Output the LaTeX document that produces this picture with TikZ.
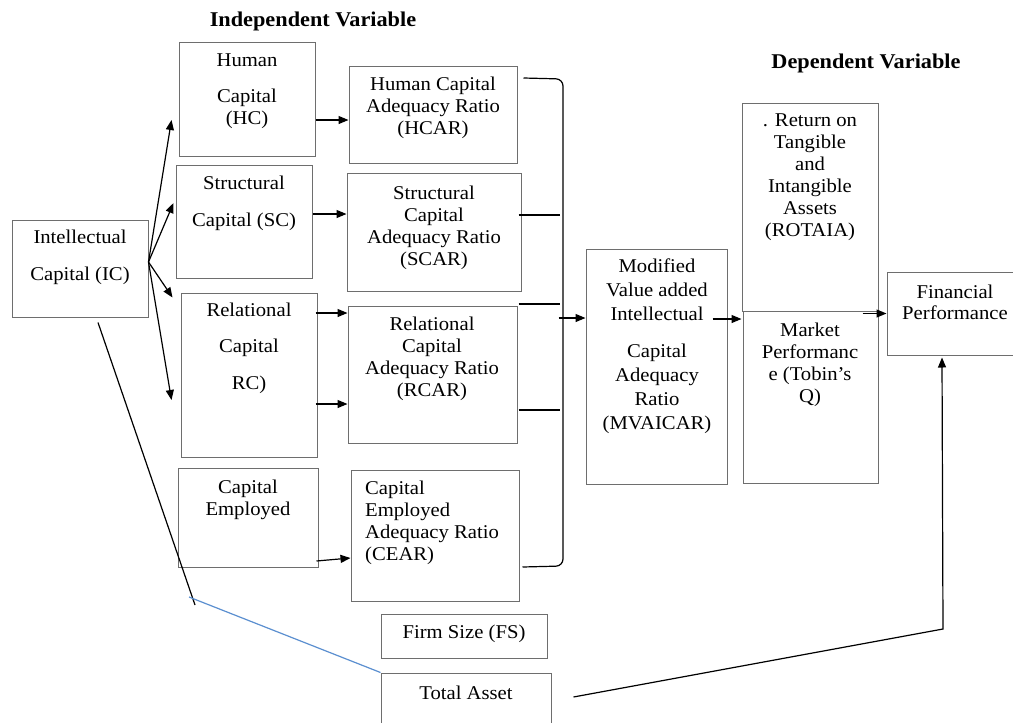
\documentclass[tikz,border=0pt]{standalone}
\usepackage{fontspec}
\setmainfont{Liberation Serif}[FakeStretch=1.06]
\usetikzlibrary{arrows.meta,fit}
\definecolor{boxgray}{RGB}{110,110,110}
\definecolor{lineblue}{RGB}{91,143,208}
\tikzset{
  box/.style={draw=boxgray, line width=1pt, inner sep=0pt},
  txt/.style={align=center, inner sep=0pt, font=\fontsize{19.5}{22}\selectfont},
  conn/.style={draw=black, line width=1.2pt},
  arr/.style={conn, -{Triangle[length=10pt,width=8pt]}},
  ttl/.style={font=\fontsize{21}{24}\selectfont\bfseries, inner sep=0pt},
}
\begin{document}
\begin{tikzpicture}[x=1pt,y=-1pt]
\useasboundingbox (0,0) rectangle (1013,723);
\clip (0,0) rectangle (1013,723);
\fill[white] (0,0) rectangle (1013,723);

% titles
\node[ttl] (indep) at (313,21) {Independent Variable};
\node[ttl] (dep) at (866,63) {Dependent Variable};

% boxes
\node[box, fit={(12,220) (148,317)}] (ic) {};
\node[box, fit={(179,42) (315,156)}] (hc) {};
\node[box, fit={(176,165) (312,278)}] (sc) {};
\node[box, fit={(181,293) (317,457)}] (rc) {};
\node[box, fit={(178,468) (318,567)}] (ce) {};
\node[box, fit={(349,66) (517,163)}] (hcar) {};
\node[box, fit={(347,173) (521,291)}] (scar) {};
\node[box, fit={(348,306) (517,443)}] (rcar) {};
\node[box, fit={(351,470) (519,601)}] (cear) {};
\node[box, fit={(381,614) (547,658)}] (fs) {};
\node[box, fit={(381,673) (551,735)}] (ta) {};
\node[box, fit={(586,249) (727,484)}] (mv) {};
\node[box, fit={(742,103) (878,311)}] (rot) {};
\node[box, fit={(743,311) (878,483)}] (mk) {};
\node[box, fit={(887,272) (1020,355)}] (fp) {};

% texts
\node[txt] (ict) at (80,257.5) {Intellectual\\[15pt]Capital (IC)};
\node[txt] (hct) at (247,91) {Human\\[14pt]Capital\\(HC)};
\node[txt] (sct) at (244,203.5) {Structural\\[15pt]Capital (SC)};
\node[txt] (rct) at (249,348.5) {Relational\\[14pt]Capital\\[15pt]RC)};
\node[txt] (cet) at (248,499.5) {Capital\\Employed};
\node[txt] (hcart) at (433,107.5) {Human Capital\\Adequacy Ratio\\(HCAR)};
\node[txt] (scart) at (434,227.5) {Structural\\Capital\\Adequacy Ratio\\(SCAR)};
\node[txt] (rcart) at (432,358.5) {Relational\\Capital\\Adequacy Ratio\\(RCAR)};
\node[txt, align=left, anchor=west] (ceart) at (365,523) {Capital\\Employed\\Adequacy Ratio\\(CEAR)};
\node[txt] (fst) at (464,634) {Firm Size (FS)};
\node[txt] (tat) at (466,693) {Total Asset};
\node[txt, font=\fontsize{19.5}{24}\selectfont] (mvt) at (657,346) {Modified\\Value added\\Intellectual\\[13pt]Capital\\Adequacy\\Ratio\\(MVAICAR)};
\node[txt] (rott) at (810,177.5) {. Return on\\Tangible\\and\\Intangible\\Assets\\(ROTAIA)};
\node[txt] (mkt) at (810,364.5) {Market\\Performanc\\e (Tobin’s\\Q)};
\node[txt] (fpt) at (955,302.5) {Financial\\[-1pt]Performance};

% IC to capitals
\draw[arr] ([yshift=6.5pt]ic.east) -- ([xshift=-7pt,yshift=-21pt]hc.west);
\draw[arr] ([yshift=6.5pt]ic.east) -- ([xshift=-2pt,yshift=18.5pt]sc.west);
\draw[arr] ([yshift=6.5pt]ic.east) -- ([xshift=-8pt,yshift=-5pt]rc.north west);
\draw[arr] ([yshift=6.5pt]ic.east) -- ([xshift=-9pt,yshift=-25pt]rc.west);

% IC down line and blue line to Total Asset
\coordinate (icend) at (195,605);
\coordinate (bl) at (189,597);
\draw[conn] ([xshift=18pt,yshift=-5pt]ic.south) -- (icend);
\draw[draw=lineblue, line width=1.2pt] (bl) -- (ta.north west);

% capitals to ratios
\draw[arr] ([yshift=-21pt]hc.east) -- ([yshift=-5.5pt]hcar.west);
\draw[arr] ([yshift=7.5pt]sc.east) -- ([yshift=18pt]scar.west);
\draw[arr] ([xshift=-2pt,yshift=62pt]rc.east) -- ([yshift=61.5pt]rcar.west);
\draw[arr] ([xshift=-2pt,yshift=-29pt]rc.east) -- ([yshift=-29.5pt]rcar.west);
\draw[arr] ([xshift=-2pt,yshift=-43.5pt]ce.east) -- ([yshift=-22.5pt]cear.west);

% bracket
\coordinate (brtop) at (563,79);
\coordinate (brbot) at (563,566);
\draw[conn, rounded corners=7pt] ([xshift=6pt,yshift=36.5pt]hcar.east) -- (brtop) -- (brbot) -- ([xshift=3pt,yshift=-31.5pt]cear.east);
\draw[conn] ([xshift=-3pt,yshift=17pt]scar.east) -- +(41,0);
\draw[conn] ([xshift=1pt,yshift=70.5pt]rcar.east) -- +(41,0);
\draw[conn] ([xshift=1pt,yshift=-35.5pt]rcar.east) -- +(41,0);
\draw[arr] ([xshift=-27pt,yshift=48.5pt]mv.west) -- ([yshift=48.5pt]mv.west);

% to dependent
\draw[arr] ([xshift=-15pt,yshift=47.5pt]mv.east) -- ([xshift=-1pt,yshift=78pt]mk.west);
\draw[arr] ([xshift=-16pt,yshift=-2pt]rot.south east) -- (fp.west);

% total asset to financial performance
\coordinate (corner) at (943,629);
\draw[arr] ([xshift=22pt,yshift=7pt]ta.east) -- (corner) -- ([xshift=-11.5pt,yshift=-2pt]fp.south);
\end{tikzpicture}
\end{document}
